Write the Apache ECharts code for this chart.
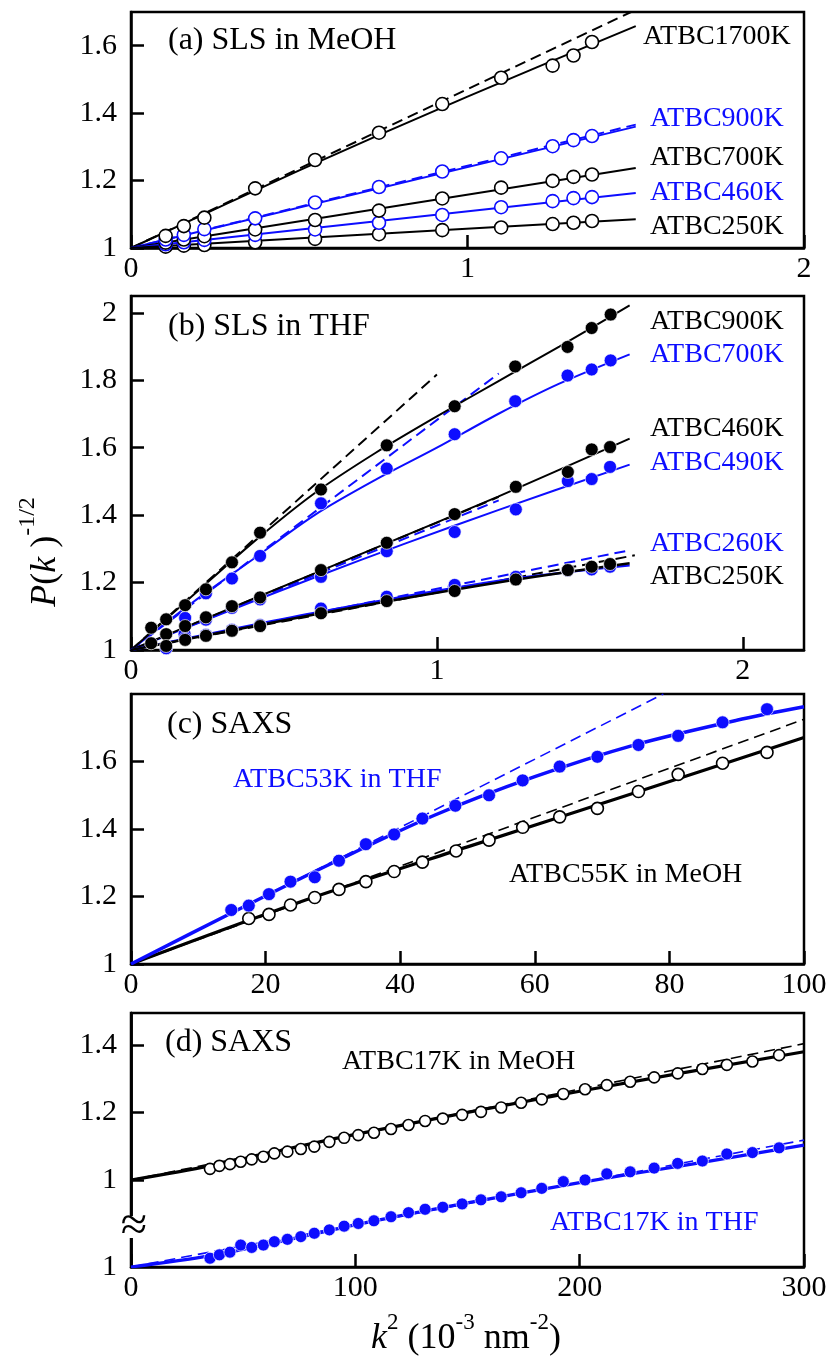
<!DOCTYPE html>
<html>
<head>
<meta charset="utf-8">
<script src="https://cdn.jsdelivr.net/npm/echarts@6/dist/echarts.min.js"></script>
<style>
  html, body { margin: 0; padding: 0; background: #fff; }
  #chart { width: 835px; height: 1361px; }
</style>
</head>
<body>
<div id="chart"></div>
<script>
// ---------- (a) SLS in MeOH ----------
const kA = [0.103, 0.157, 0.218, 0.369, 0.547, 0.737, 0.925, 1.100, 1.253, 1.315, 1.370];
const a1700 = [1.036, 1.065, 1.090, 1.177, 1.261, 1.342, 1.427, 1.505, 1.541, 1.571, 1.611];
const a900 = [1.025, 1.039, 1.056, 1.088, 1.135, 1.181, 1.227, 1.266, 1.302, 1.320, 1.332];
const a700 = [1.016, 1.025, 1.035, 1.055, 1.083, 1.111, 1.147, 1.179, 1.199, 1.211, 1.218];
const a460 = [1.011, 1.017, 1.024, 1.039, 1.055, 1.075, 1.098, 1.121, 1.139, 1.148, 1.151];
const a250 = [1.004, 1.007, 1.009, 1.017, 1.027, 1.041, 1.053, 1.061, 1.071, 1.075, 1.080];
// fitted curves and initial slopes
const fitA1700x = [0, 0.5, 1.0, 1.5],  fitA1700y = [1, 1.230, 1.449, 1.658];
const dashA1700x = [0, 1.486],         dashA1700y = [1, 1.7];
const fitA900x = [0, 1.5],             fitA900y = [1, 1.360];
const dashA900x = [0, 1.5],            dashA900y = [1, 1.366];
const fitA700x = [0, 1.5],             fitA700y = [1, 1.237];
const fitA460x = [0, 1.5],             fitA460y = [1, 1.163];
const fitA250x = [0, 0.75, 1.5],       fitA250y = [1, 1.043, 1.085];

// ---------- (b) SLS in THF ----------
const kB900 = [0.066, 0.115, 0.177, 0.245, 0.330, 0.422, 0.621, 0.836, 1.058, 1.256, 1.427, 1.506, 1.568];
const b900  = [1.066, 1.091, 1.133, 1.180, 1.260, 1.348, 1.476, 1.607, 1.723, 1.841, 1.899, 1.955, 1.995];
const kB700 = [0.177, 0.245, 0.330, 0.422, 0.621, 0.836, 1.058, 1.256, 1.427, 1.506, 1.568];
const b700  = [1.095, 1.168, 1.212, 1.279, 1.435, 1.538, 1.640, 1.738, 1.814, 1.832, 1.859];
const kB460 = [0.115, 0.177, 0.245, 0.330, 0.422, 0.621, 0.836, 1.058, 1.258, 1.428, 1.506, 1.566];
const b460  = [1.047, 1.071, 1.097, 1.130, 1.156, 1.237, 1.318, 1.403, 1.484, 1.528, 1.595, 1.602];
const kB490 = [0.175, 0.245, 0.330, 0.422, 0.621, 0.836, 1.058, 1.258, 1.428, 1.506, 1.566];
const b490  = [1.047, 1.090, 1.125, 1.150, 1.217, 1.293, 1.350, 1.417, 1.501, 1.507, 1.543];
const kB250 = [0.066, 0.115, 0.177, 0.245, 0.330, 0.422, 0.621, 0.836, 1.058, 1.258, 1.428, 1.506, 1.566];
const b250  = [1.020, 1.012, 1.030, 1.042, 1.057, 1.071, 1.109, 1.145, 1.175, 1.209, 1.237, 1.247, 1.255];
const kB260 = [0.115, 0.177, 0.245, 0.330, 0.422, 0.621, 0.836, 1.058, 1.258, 1.428, 1.506, 1.566];
const b260  = [1.005, 1.035, 1.045, 1.060, 1.074, 1.123, 1.158, 1.193, 1.217, 1.236, 1.239, 1.247];
const fitB900x = [0, 0.2, 0.4, 0.6, 0.8, 1.0, 1.2, 1.4, 1.63];
const fitB900y = [1, 1.160, 1.320, 1.465, 1.585, 1.693, 1.797, 1.900, 2.022];
const dashB900x = [0, 1.0],   dashB900y = [1, 1.817];
const fitB700x = [0, 0.2, 0.4, 0.6, 0.8, 1.0, 1.2, 1.4, 1.63];
const fitB700y = [1, 1.140, 1.270, 1.400, 1.505, 1.600, 1.700, 1.790, 1.877];
const dashB700x = [0, 1.202], dashB700y = [1, 1.820];
const fitB460x = [0, 0.4, 0.8, 1.2, 1.63],        fitB460y = [1, 1.152, 1.303, 1.455, 1.627];
const dashB460x = [0, 1.202], dashB460y = [1, 1.454];
const fitB490x = [0, 0.3, 0.6, 0.9, 1.2, 1.63],   fitB490y = [1, 1.109, 1.215, 1.317, 1.415, 1.550];
const dashB490x = [0, 1.202], dashB490y = [1, 1.444];
const fitB250x = [0, 0.6, 1.2, 1.63],  fitB250y = [1, 1.105, 1.200, 1.257];
const fitB260x = [0, 0.6, 1.2, 1.63],  fitB260y = [1, 1.110, 1.205, 1.251];
const dashB250x = [0, 1.647], dashB250y = [1, 1.281];
const dashB260x = [0, 1.631], dashB260y = [1, 1.296];

// ---------- (c) SAXS ----------
const kC53 = [14.9, 17.5, 20.5, 23.7, 27.3, 30.9, 34.9, 39.1, 43.3, 48.2, 53.2, 58.2, 63.7, 69.3, 75.4, 81.3, 87.9, 94.5];
const c53  = [1.160, 1.173, 1.207, 1.244, 1.257, 1.306, 1.355, 1.384, 1.431, 1.469, 1.500, 1.544, 1.585, 1.614, 1.649, 1.676, 1.716, 1.755];
const kC55 = [17.5, 20.5, 23.7, 27.3, 30.9, 34.9, 39.1, 43.3, 48.3, 53.2, 58.2, 63.7, 69.3, 75.4, 81.3, 87.9, 94.5];
const c55  = [1.135, 1.147, 1.175, 1.197, 1.221, 1.244, 1.274, 1.302, 1.335, 1.367, 1.405, 1.436, 1.461, 1.511, 1.562, 1.595, 1.627];
const fitC53x = [0, 15, 30, 45, 60, 75, 90, 100];
const fitC53y = [1, 1.152, 1.300, 1.440, 1.555, 1.650, 1.722, 1.762];
const dashC53x = [0, 79.1], dashC53y = [1, 1.8];
const fitC55x = [0, 25, 50, 75, 100], fitC55y = [1, 1.183, 1.347, 1.508, 1.671];
const dashC55x = [0, 100],  dashC55y = [1, 1.725];

// ---------- (d) SAXS ----------
const kD = [35.2, 39.4, 44.1, 48.9, 53.8, 59.0, 63.9, 69.7, 75.7, 81.7, 88.4, 95.0, 101.3, 108.3, 115.9, 123.7, 131.1,
            139.0, 147.6, 156.0, 165.0, 173.9, 183.1, 192.7, 202.4, 212.1, 222.5, 233.2, 243.7, 254.7, 265.6, 277.0, 288.9];
const dMeOH = [1.033, 1.042, 1.047, 1.054, 1.061, 1.069, 1.079, 1.084, 1.092, 1.099, 1.113, 1.125, 1.133, 1.140, 1.151, 1.163, 1.175,
               1.182, 1.193, 1.202, 1.215, 1.229, 1.239, 1.255, 1.269, 1.281, 1.291, 1.304, 1.316, 1.329, 1.341, 1.351, 1.370];
const dTHF  = [1.026, 1.036, 1.044, 1.065, 1.058, 1.065, 1.075, 1.082, 1.090, 1.100, 1.110, 1.121, 1.129, 1.137, 1.149, 1.161, 1.171,
               1.177, 1.187, 1.199, 1.208, 1.220, 1.233, 1.253, 1.258, 1.276, 1.282, 1.293, 1.307, 1.314, 1.335, 1.339, 1.353];
const fitDMx = [0, 35, 100, 200, 300],  fitDMy = [1, 1.042, 1.135, 1.263, 1.380];
const dashDMx = [0, 300],               dashDMy = [1, 1.404];
const fitDTx = [0, 35, 60, 100, 150, 200, 250, 300];
const fitDTy = [1, 1.033, 1.066, 1.125, 1.190, 1.250, 1.305, 1.361];
const dashDTx = [0, 300],               dashDTy = [1, 1.376];

// tick values
const ticksA_x = [0, 1, 2], ticksA_y = [1, 1.2, 1.4, 1.6];
const ticksB_x = [0, 1, 2], ticksB_y = [1, 1.2, 1.4, 1.6, 1.8, 2];
const ticksC_x = [0, 20, 40, 60, 80, 100], ticksC_y = [1, 1.2, 1.4, 1.6];
const ticksD_x = [0, 100, 200, 300], ticksD_y = [1, 1.2, 1.4], ticksD_y2 = [1];

// ---------- drawing ----------
const FONT = "'Liberation Serif', 'Times New Roman', serif";
const BLACK = '#000';
const BLUE = '#0d0dff';

const grids = [
  { left: 131, top: 12,   width: 673, height: 236 },
  { left: 131, top: 296,  width: 673, height: 354 },
  { left: 131, top: 694,  width: 673, height: 270 },
  { left: 131, top: 1013, width: 673, height: 254 }
].map(g => Object.assign({ show: true, borderColor: '#000', borderWidth: 2.5, backgroundColor: 'transparent' }, g));

const fmt = v => String(+(+v).toFixed(2));

function xAx(gi, min, max, ticks) {
  return {
    type: 'value', gridIndex: gi, min, max,
    axisLine: { show: true, lineStyle: { color: '#000', width: 2.5 } },
    axisTick: { show: true, inside: true, length: 13, customValues: ticks, lineStyle: { color: '#000', width: 2.5 } },
    axisLabel: { customValues: ticks, formatter: fmt, margin: 6, color: '#000', fontFamily: FONT, fontSize: 30 },
    splitLine: { show: false }
  };
}
function yAx(gi, min, max, ticks, showTicks) {
  return {
    type: 'value', gridIndex: gi, min, max, position: 'left', offset: 0,
    axisLine: { show: true, lineStyle: { color: '#000', width: 2.5 } },
    axisTick: { show: showTicks !== false, inside: true, length: 13, customValues: ticks, lineStyle: { color: '#000', width: 2.5 } },
    axisLabel: { customValues: ticks, formatter: fmt, margin: 14, color: '#000', fontFamily: FONT, fontSize: 30 },
    splitLine: { show: false }
  };
}

const xAxes = [
  xAx(0, 0, 2, ticksA_x),
  xAx(1, 0, 2.2, ticksB_x),
  xAx(2, 0, 100, ticksC_x),
  xAx(3, 0, 300, ticksD_x)
];
const yAxes = [
  yAx(0, 1, 1.7, ticksA_y),
  yAx(1, 1, 2.05, ticksB_y),
  yAx(2, 1, 1.8, ticksC_y),
  yAx(3, 1 - 87 / 337.5, 1 - 87 / 337.5 + 254 / 337.5, ticksD_y),
  yAx(3, 1, 1 + 254 / 337.5, ticksD_y2, false)
];

const pts = (xs, ys) => xs.map((x, i) => [x, ys[i]]);

function fitLine(ax, ay, xs, ys, color, width, dashed) {
  return {
    type: 'line', xAxisIndex: ax, yAxisIndex: ay, data: pts(xs, ys),
    showSymbol: false, symbol: 'none', smooth: xs.length > 2 ? 0.3 : false,
    clip: true, silent: true, z: 2,
    lineStyle: { color, width, type: dashed ? [11, 6] : 'solid', opacity: 1 }
  };
}
function dots(ax, ay, xs, ys, color, open, size) {
  return {
    type: 'scatter', xAxisIndex: ax, yAxisIndex: ay, data: pts(xs, ys),
    symbol: 'circle', symbolSize: size, z: 5, silent: true,
    itemStyle: open
      ? { color: '#fff', borderColor: color, borderWidth: 1.6, opacity: 1 }
      : { color, borderColor: 'rgba(255,255,255,0.85)', borderWidth: 0.8, opacity: 1 }
  };
}

const series = [
  // (a)
  fitLine(0, 0, dashA1700x, dashA1700y, BLACK, 2, true),
  fitLine(0, 0, dashA900x, dashA900y, BLUE, 2, true),
  fitLine(0, 0, fitA1700x, fitA1700y, BLACK, 2),
  fitLine(0, 0, fitA900x, fitA900y, BLUE, 2),
  fitLine(0, 0, fitA700x, fitA700y, BLACK, 2),
  fitLine(0, 0, fitA460x, fitA460y, BLUE, 2),
  fitLine(0, 0, fitA250x, fitA250y, BLACK, 2),
  dots(0, 0, kA, a250, BLACK, true, 13),
  dots(0, 0, kA, a460, BLUE, true, 13),
  dots(0, 0, kA, a700, BLACK, true, 13),
  dots(0, 0, kA, a900, BLUE, true, 13),
  dots(0, 0, kA, a1700, BLACK, true, 13),
  // (b)
  fitLine(1, 1, dashB900x, dashB900y, BLACK, 2, true),
  fitLine(1, 1, dashB700x, dashB700y, BLUE, 2, true),
  fitLine(1, 1, dashB460x, dashB460y, BLACK, 2, true),
  fitLine(1, 1, dashB490x, dashB490y, BLUE, 2, true),
  fitLine(1, 1, dashB250x, dashB250y, BLACK, 2, true),
  fitLine(1, 1, dashB260x, dashB260y, BLUE, 2, true),
  fitLine(1, 1, fitB700x, fitB700y, BLUE, 2),
  fitLine(1, 1, fitB900x, fitB900y, BLACK, 2),
  fitLine(1, 1, fitB490x, fitB490y, BLUE, 2),
  fitLine(1, 1, fitB460x, fitB460y, BLACK, 2),
  fitLine(1, 1, fitB260x, fitB260y, BLUE, 2.5),
  fitLine(1, 1, fitB250x, fitB250y, BLACK, 2.5),
  dots(1, 1, kB700, b700, BLUE, false, 13),
  dots(1, 1, kB490, b490, BLUE, false, 13),
  dots(1, 1, kB260, b260, BLUE, false, 13),
  dots(1, 1, kB900, b900, BLACK, false, 13),
  dots(1, 1, kB460, b460, BLACK, false, 13),
  dots(1, 1, kB250, b250, BLACK, false, 13),
  // (c)
  fitLine(2, 2, dashC53x, dashC53y, BLUE, 1.6, true),
  fitLine(2, 2, dashC55x, dashC55y, BLACK, 1.6, true),
  fitLine(2, 2, fitC55x, fitC55y, BLACK, 3.2),
  fitLine(2, 2, fitC53x, fitC53y, BLUE, 3.5),
  dots(2, 2, kC55, c55, BLACK, true, 12),
  dots(2, 2, kC53, c53, BLUE, false, 13),
  // (d)
  fitLine(3, 3, dashDMx, dashDMy, BLACK, 1.6, true),
  fitLine(3, 4, dashDTx, dashDTy, BLUE, 1.6, true),
  fitLine(3, 3, fitDMx, fitDMy, BLACK, 3.2),
  fitLine(3, 4, fitDTx, fitDTy, BLUE, 3.2),
  dots(3, 3, kD, dMeOH, BLACK, true, 11),
  dots(3, 4, kD, dTHF, BLUE, false, 12)
];

// text annotations
const LABEL_SIZE = 28, TITLE_SIZE = 32;
const notes = [
  ['(a) SLS in MeOH', 168, 41, BLACK, TITLE_SIZE],
  ['ATBC1700K', 643, 37, BLACK, LABEL_SIZE],
  ['ATBC900K', 650, 119, BLUE, LABEL_SIZE],
  ['ATBC700K', 650, 158, BLACK, LABEL_SIZE],
  ['ATBC460K', 650, 193, BLUE, LABEL_SIZE],
  ['ATBC250K', 650, 227, BLACK, LABEL_SIZE],
  ['(b) SLS in THF', 168, 327, BLACK, TITLE_SIZE],
  ['ATBC900K', 650, 322, BLACK, LABEL_SIZE],
  ['ATBC700K', 650, 355, BLUE, LABEL_SIZE],
  ['ATBC460K', 650, 429, BLACK, LABEL_SIZE],
  ['ATBC490K', 650, 463, BLUE, LABEL_SIZE],
  ['ATBC260K', 650, 544, BLUE, LABEL_SIZE],
  ['ATBC250K', 650, 577, BLACK, LABEL_SIZE],
  ['(c) SAXS', 167, 725, BLACK, TITLE_SIZE],
  ['ATBC53K in THF', 233, 780, BLUE, LABEL_SIZE],
  ['ATBC55K in MeOH', 509, 875, BLACK, LABEL_SIZE],
  ['(d) SAXS', 165, 1043, BLACK, TITLE_SIZE],
  ['ATBC17K in MeOH', 342, 1062, BLACK, LABEL_SIZE],
  ['ATBC17K in THF', 550, 1223, BLUE, LABEL_SIZE]
];

const graphic = notes.map(([t, x, y, c, s]) => ({
  type: 'text', x, y, z: 10, silent: true,
  style: { text: t, fill: c, fontFamily: FONT, fontSize: s, align: 'left', verticalAlign: 'middle' }
}));

// axis break mark on the left edge of (d)
graphic.push({
  type: 'rect', z: 20, silent: true,
  shape: { x: 124, y: 1216, width: 15, height: 22 },
  style: { fill: '#fff' }
});
graphic.push({
  type: 'text', x: 134, y: 1227, z: 21, silent: true,
  style: { text: '\u2248', fill: '#000', fontFamily: FONT, fontSize: 48, align: 'center', verticalAlign: 'middle' }
});

// y-axis title
graphic.push({
  type: 'text', x: 40, y: 552, rotation: Math.PI / 2, z: 10, silent: true,
  style: {
    text: '{i|P}{n|(}{i|k}{n| )}{s|-1/2}',
    align: 'center', verticalAlign: 'middle',
    rich: {
      i: { fontFamily: FONT, fontStyle: 'italic', fontSize: 36, fill: '#000', lineHeight: 48, verticalAlign: 'bottom' },
      n: { fontFamily: FONT, fontSize: 36, fill: '#000', lineHeight: 48, verticalAlign: 'bottom' },
      s: { fontFamily: FONT, fontSize: 24, fill: '#000', lineHeight: 26, verticalAlign: 'top' }
    }
  }
});

// x-axis title
graphic.push({
  type: 'text', x: 466, y: 1334, z: 10, silent: true,
  style: {
    text: '{i|k}{s|2}{n| (10}{s|-3}{n| nm}{s|-2}{n|)}',
    align: 'center', verticalAlign: 'middle',
    rich: {
      i: { fontFamily: FONT, fontStyle: 'italic', fontSize: 36, fill: '#000', lineHeight: 46, verticalAlign: 'bottom' },
      n: { fontFamily: FONT, fontSize: 36, fill: '#000', lineHeight: 46, verticalAlign: 'bottom' },
      s: { fontFamily: FONT, fontSize: 23, fill: '#000', lineHeight: 24, verticalAlign: 'top' }
    }
  }
});

const chart = echarts.init(document.getElementById('chart'), null, { renderer: 'canvas' });
chart.setOption({
  animation: false,
  backgroundColor: '#fff',
  textStyle: { fontFamily: FONT },
  grid: grids,
  xAxis: xAxes,
  yAxis: yAxes,
  series,
  graphic
});
</script>
</body>
</html>
